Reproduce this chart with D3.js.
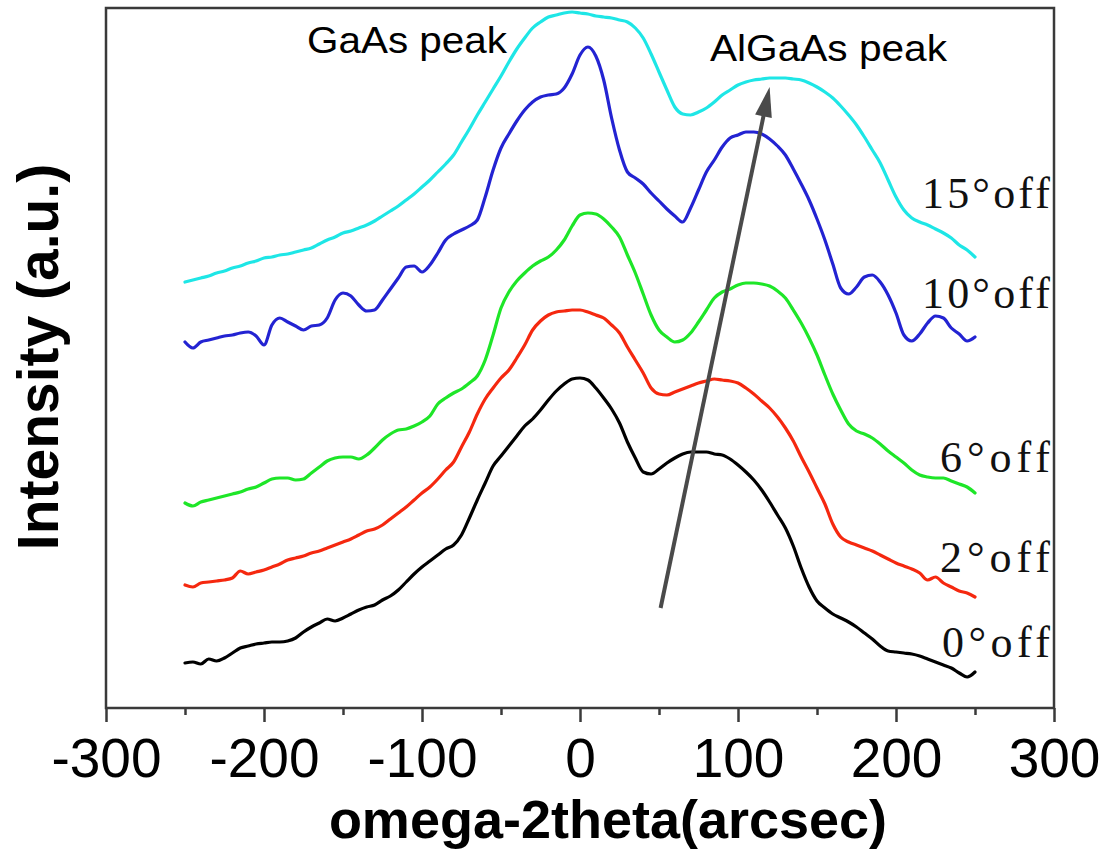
<!DOCTYPE html>
<html>
<head>
<meta charset="utf-8">
<script src="https://cdn.jsdelivr.net/npm/d3@7/dist/d3.min.js"></script>
<style>
  html, body { margin: 0; padding: 0; background: #fff; }
  svg { display: block; }
</style>
</head>
<body>
<svg id="chart" width="1113" height="854"></svg>
<script>
// omega-2theta positions (arcsec), 5 arcsec step from -250 to 250
const angles = d3.range(-250, 251, 5);

// stacked rocking-curve intensities (a.u.), one array per off-cut angle
const off0 = [
  45, 46, 44, 49, 47, 50, 55, 60, 62, 64,
  65, 66, 66, 67, 70, 76, 81, 85, 89, 87,
  90, 94, 98, 101, 103, 108, 112, 118, 126, 134,
  141, 147, 153, 159, 163, 173, 190, 208, 225, 242,
  252, 262, 272, 282, 289, 298, 308, 317, 324, 329,
  330, 328, 320, 310, 299, 285, 266, 250, 236, 234,
  239, 245, 250, 254, 256, 256, 256, 254, 253, 249,
  243, 236, 228, 218, 206, 193, 180, 162, 140, 121,
  107, 100, 94, 90, 86, 81, 75, 69, 62, 57,
  56, 55, 54, 52, 49, 46, 43, 40, 35, 31,
  36
];
const off2 = [
  123, 121, 125, 126, 127, 128, 130, 137, 134, 136,
  138, 141, 144, 148, 150, 152, 155, 157, 160, 163,
  166, 169, 173, 177, 179, 183, 189, 195, 201, 208,
  215, 221, 229, 238, 246, 261, 276, 294, 309, 320,
  330, 338, 350, 363, 378, 387, 393, 396, 397, 398,
  398, 396, 393, 390, 383, 375, 361, 348, 335, 320,
  314, 313, 316, 319, 322, 325, 327, 329, 328, 327,
  325, 320, 314, 307, 300, 291, 280, 267, 251, 236,
  220, 204, 184, 171, 166, 163, 160, 157, 153, 149,
  145, 142, 139, 135, 128, 131, 125, 121, 117, 115,
  111
];
const off6 = [
  205, 202, 206, 208, 210, 212, 214, 216, 219, 221,
  225, 229, 230, 230, 228, 229, 235, 241, 247, 250,
  251, 251, 249, 253, 260, 268, 274, 278, 279, 282,
  286, 292, 304, 310, 315, 319, 325, 332, 348, 373,
  400, 416, 427, 435, 442, 447, 451, 458, 468, 482,
  493, 495, 494, 489, 481, 471, 453, 435, 414, 393,
  378, 371, 366, 368, 375, 386, 398, 410, 416, 419,
  423, 425, 425, 424, 422, 417, 410, 398, 385, 370,
  353, 333, 314, 298, 284, 277, 274, 270, 264, 257,
  251, 245, 238, 233, 231, 230, 230, 227, 224, 221,
  215
];
const off10 = [
  366, 360, 366, 368, 370, 372, 373, 375, 376, 372,
  363, 383, 390, 386, 382, 378, 382, 383, 390, 408,
  415, 412, 403, 397, 398, 408, 419, 430, 441, 442,
  436, 443, 455, 468, 474, 478, 482, 488, 511, 538,
  560, 574, 587, 598, 606, 611, 613, 614, 620, 634,
  653, 661, 652, 628, 590, 558, 536, 530, 524, 515,
  507, 499, 492, 486, 500, 518, 536, 548, 561, 570,
  573, 576, 576, 574, 569, 562, 553, 539, 524, 508,
  489, 468, 444, 420, 414, 421, 431, 433, 426, 413,
  395, 373, 367, 374, 385, 392, 390, 380, 374, 367,
  371
];
const off15 = [
  426, 428, 430, 432, 435, 437, 440, 442, 445, 447,
  450, 451, 453, 454, 456, 458, 460, 464, 468, 471,
  475, 477, 480, 483, 487, 492, 497, 502, 508, 514,
  521, 528, 536, 544, 553, 566, 579, 593, 606, 619,
  632, 646, 659, 670, 680, 686, 691, 693, 695, 696,
  695, 694, 692, 691, 690, 688, 686, 680, 670, 654,
  636, 618, 601, 594, 593, 596, 600, 606, 613, 618,
  623, 626, 628, 629, 630, 630, 630, 629, 628, 625,
  621, 616, 610, 602, 593, 583, 571, 558, 545, 528,
  511, 498, 490, 486, 483, 479, 475, 470, 463, 458,
  451
];

// series names and colours, bottom to top
const seriesNames = ["0°off", "2°off", "6°off", "10°off", "15°off"];
const seriesValues = [off0, off2, off6, off10, off15];
const seriesColors = ["#000000", "#f5280f", "#1ee628", "#2323d2", "#1ee6e6"];
// intensity level of each curve label's baseline
const labelLevels = [51, 136, 236, 400, 500];

const xTicksMajor = [-300, -200, -100, 0, 100, 200, 300];
const xTicksMinor = [-250, -150, -50, 50, 150, 250];

// arrow marking the AlGaAs peak shift: [angle, intensity] start and end
const shiftArrow = [[51, 100], [120, 621]];

const svg = d3.select("#chart");

const x = d3.scaleLinear().domain([-300, 300]).range([106, 1054]);
const y = d3.scaleLinear().domain([0, 700]).range([708, 8]);

// frame
svg.append("rect")
  .attr("x", x(-300)).attr("y", y(700))
  .attr("width", x(300) - x(-300)).attr("height", y(0) - y(700))
  .attr("fill", "none").attr("stroke", "#3a3a3a").attr("stroke-width", 2.5);

// bottom axis: major ticks with labels
const axMajor = svg.append("g")
  .attr("transform", `translate(0,${y(0)})`)
  .call(d3.axisBottom(x).tickValues(xTicksMajor).tickSize(14).tickFormat(d3.format("d")));
axMajor.select(".domain").remove();
axMajor.selectAll("line").attr("stroke", "#3a3a3a").attr("stroke-width", 2.5);
axMajor.selectAll("text")
  .attr("y", 69).attr("dy", 0)
  .attr("fill", "#000")
  .style("font-family", "'Liberation Sans', Arial, sans-serif")
  .style("font-size", "55px")
  .text(d => d < 0 ? "-" + Math.abs(d) : String(d));

// bottom axis: minor ticks
const axMinor = svg.append("g")
  .attr("transform", `translate(0,${y(0)})`)
  .call(d3.axisBottom(x).tickValues(xTicksMinor).tickSize(7).tickFormat(""));
axMinor.select(".domain").remove();
axMinor.selectAll("line").attr("stroke", "#3a3a3a").attr("stroke-width", 2.5);

// curves
const line = d3.line()
  .x((d, i) => x(angles[i]))
  .y(d => y(d))
  .curve(d3.curveMonotoneX);

svg.append("g").selectAll("path")
  .data(seriesValues)
  .join("path")
  .attr("d", d => line(d))
  .attr("fill", "none")
  .attr("stroke", (d, i) => seriesColors[i])
  .attr("stroke-width", 3.2)
  .attr("stroke-linejoin", "round")
  .attr("stroke-linecap", "round");

// curve labels
const labelWidths = [108, 110, 110, 128, 128];
svg.append("g").selectAll("text")
  .data(seriesNames)
  .join("text")
  .attr("x", 1050)
  .attr("y", (d, i) => y(labelLevels[i]))
  .attr("text-anchor", "end")
  .attr("textLength", (d, i) => labelWidths[i])
  .attr("lengthAdjust", "spacing")
  .style("font-family", "'Liberation Serif', 'Times New Roman', serif")
  .style("font-size", "44px")
  .attr("fill", "#111")
  .text(d => d);

// peak annotations
svg.append("text")
  .attr("x", 307).attr("y", 53)
  .attr("textLength", 200).attr("lengthAdjust", "spacingAndGlyphs")
  .style("font-family", "'Liberation Sans', Arial, sans-serif")
  .style("font-size", "37px")
  .attr("fill", "#000")
  .text("GaAs peak");
svg.append("text")
  .attr("x", 710).attr("y", 61)
  .attr("textLength", 237).attr("lengthAdjust", "spacingAndGlyphs")
  .style("font-family", "'Liberation Sans', Arial, sans-serif")
  .style("font-size", "37px")
  .attr("fill", "#000")
  .text("AlGaAs peak");

// shift arrow
const [a0, a1] = shiftArrow.map(p => [x(p[0]), y(p[1])]);
const dx = a1[0] - a0[0], dy = a1[1] - a0[1];
const len = Math.hypot(dx, dy);
const ux = dx / len, uy = dy / len;
const headLen = 30, headHalf = 8.5;
const base = [a1[0] - ux * headLen, a1[1] - uy * headLen];
svg.append("line")
  .attr("x1", a0[0]).attr("y1", a0[1])
  .attr("x2", base[0] + ux * 4).attr("y2", base[1] + uy * 4)
  .attr("stroke", "#4a4a4a").attr("stroke-width", 4);
svg.append("path")
  .attr("d", d3.line()([
    a1,
    [base[0] - uy * headHalf, base[1] + ux * headHalf],
    [base[0] + uy * headHalf, base[1] - ux * headHalf]
  ]) + "Z")
  .attr("fill", "#4a4a4a");

// axis titles
svg.append("text")
  .attr("x", 608).attr("y", 838)
  .attr("text-anchor", "middle")
  .style("font-family", "'Liberation Sans', Arial, sans-serif")
  .style("font-size", "54px")
  .style("font-weight", "bold")
  .attr("fill", "#000")
  .text("omega-2theta(arcsec)");
svg.append("text")
  .attr("transform", "translate(58,357) rotate(-90)")
  .attr("text-anchor", "middle")
  .style("font-family", "'Liberation Sans', Arial, sans-serif")
  .style("font-size", "57px")
  .style("font-weight", "bold")
  .attr("fill", "#000")
  .text("Intensity (a.u.)");
</script>
</body>
</html>
